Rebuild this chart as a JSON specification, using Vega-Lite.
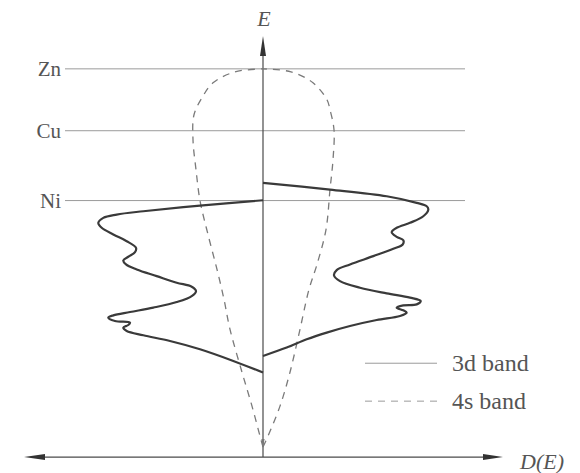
{
  "$schema": "https://vega.github.io/schema/vega-lite/v6.json",
  "width": 580,
  "height": 473,
  "autosize": {"type": "fit", "contains": "padding"},
  "padding": 0,
  "background": "white",
  "config": {"view": {"stroke": null}},
  "datasets": {
    "levels": [
      {"metal": "Zn", "E": 38.9},
      {"metal": "Cu", "E": 32.7},
      {"metal": "Ni", "E": 25.7}
    ],
    "band4s": [
      {"side": "left", "i": 0, "D": 0.0, "E": 1.0},
      {"side": "left", "i": 1, "D": -0.3, "E": 2.1},
      {"side": "left", "i": 2, "D": -1.1, "E": 5.1},
      {"side": "left", "i": 3, "D": -2.1, "E": 8.5},
      {"side": "left", "i": 4, "D": -3.3, "E": 12.8},
      {"side": "left", "i": 5, "D": -3.9, "E": 15.8},
      {"side": "left", "i": 6, "D": -4.6, "E": 18.8},
      {"side": "left", "i": 7, "D": -5.5, "E": 22.3},
      {"side": "left", "i": 8, "D": -6.3, "E": 25.7},
      {"side": "left", "i": 9, "D": -6.7, "E": 28.8},
      {"side": "left", "i": 10, "D": -7.0, "E": 31.8},
      {"side": "left", "i": 11, "D": -6.9, "E": 34.3},
      {"side": "left", "i": 12, "D": -6.1, "E": 36.0},
      {"side": "left", "i": 13, "D": -5.0, "E": 37.5},
      {"side": "left", "i": 14, "D": -2.8, "E": 38.6},
      {"side": "left", "i": 15, "D": 0.0, "E": 38.9},
      {"side": "right", "i": 0, "D": 0.0, "E": 1.0},
      {"side": "right", "i": 1, "D": 0.5, "E": 2.1},
      {"side": "right", "i": 2, "D": 1.7, "E": 5.1},
      {"side": "right", "i": 3, "D": 2.7, "E": 8.5},
      {"side": "right", "i": 4, "D": 3.7, "E": 12.8},
      {"side": "right", "i": 5, "D": 4.6, "E": 16.8},
      {"side": "right", "i": 6, "D": 5.4, "E": 19.3},
      {"side": "right", "i": 7, "D": 6.3, "E": 22.8},
      {"side": "right", "i": 8, "D": 6.7, "E": 26.8},
      {"side": "right", "i": 9, "D": 7.0, "E": 29.8},
      {"side": "right", "i": 10, "D": 7.1, "E": 32.8},
      {"side": "right", "i": 11, "D": 6.7, "E": 34.8},
      {"side": "right", "i": 12, "D": 6.4, "E": 35.8},
      {"side": "right", "i": 13, "D": 5.0, "E": 37.5},
      {"side": "right", "i": 14, "D": 2.8, "E": 38.6},
      {"side": "right", "i": 15, "D": 0.0, "E": 38.9}
    ],
    "band3d": [
      {"side": "left", "i": 0, "D": 0.0, "E": 25.73},
      {"side": "left", "i": 1, "D": -6.3, "E": 25.2},
      {"side": "left", "i": 2, "D": -11.97, "E": 24.63},
      {"side": "left", "i": 3, "D": -14.63, "E": 24.3},
      {"side": "left", "i": 4, "D": -15.97, "E": 23.97},
      {"side": "left", "i": 5, "D": -16.47, "E": 23.47},
      {"side": "left", "i": 6, "D": -16.13, "E": 22.97},
      {"side": "left", "i": 7, "D": -14.97, "E": 22.3},
      {"side": "left", "i": 8, "D": -13.63, "E": 21.63},
      {"side": "left", "i": 9, "D": -12.7, "E": 20.97},
      {"side": "left", "i": 10, "D": -12.8, "E": 20.53},
      {"side": "left", "i": 11, "D": -13.47, "E": 20.07},
      {"side": "left", "i": 12, "D": -13.97, "E": 19.7},
      {"side": "left", "i": 13, "D": -13.7, "E": 19.3},
      {"side": "left", "i": 14, "D": -12.63, "E": 18.8},
      {"side": "left", "i": 15, "D": -10.63, "E": 18.13},
      {"side": "left", "i": 16, "D": -8.63, "E": 17.47},
      {"side": "left", "i": 17, "D": -7.13, "E": 17.07},
      {"side": "left", "i": 18, "D": -6.7, "E": 16.63},
      {"side": "left", "i": 19, "D": -7.13, "E": 16.13},
      {"side": "left", "i": 20, "D": -8.63, "E": 15.53},
      {"side": "left", "i": 21, "D": -10.97, "E": 14.97},
      {"side": "left", "i": 22, "D": -13.3, "E": 14.53},
      {"side": "left", "i": 23, "D": -14.97, "E": 14.2},
      {"side": "left", "i": 24, "D": -15.47, "E": 13.97},
      {"side": "left", "i": 25, "D": -14.8, "E": 13.63},
      {"side": "left", "i": 26, "D": -13.3, "E": 13.47},
      {"side": "left", "i": 27, "D": -13.47, "E": 13.23},
      {"side": "left", "i": 28, "D": -13.97, "E": 12.97},
      {"side": "left", "i": 29, "D": -13.63, "E": 12.63},
      {"side": "left", "i": 30, "D": -11.97, "E": 12.2},
      {"side": "left", "i": 31, "D": -9.3, "E": 11.63},
      {"side": "left", "i": 32, "D": -6.3, "E": 10.8},
      {"side": "left", "i": 33, "D": -2.97, "E": 9.63},
      {"side": "left", "i": 34, "D": 0.0, "E": 8.47},
      {"side": "right", "i": 0, "D": 0.0, "E": 27.47},
      {"side": "right", "i": 1, "D": 6.7, "E": 26.8},
      {"side": "right", "i": 2, "D": 12.37, "E": 26.13},
      {"side": "right", "i": 3, "D": 15.37, "E": 25.47},
      {"side": "right", "i": 4, "D": 16.37, "E": 25.13},
      {"side": "right", "i": 5, "D": 16.53, "E": 24.8},
      {"side": "right", "i": 6, "D": 16.03, "E": 24.13},
      {"side": "right", "i": 7, "D": 14.7, "E": 23.47},
      {"side": "right", "i": 8, "D": 13.37, "E": 22.97},
      {"side": "right", "i": 9, "D": 12.87, "E": 22.53},
      {"side": "right", "i": 10, "D": 13.37, "E": 22.07},
      {"side": "right", "i": 11, "D": 14.03, "E": 21.73},
      {"side": "right", "i": 12, "D": 13.97, "E": 21.3},
      {"side": "right", "i": 13, "D": 13.03, "E": 20.87},
      {"side": "right", "i": 14, "D": 11.03, "E": 20.13},
      {"side": "right", "i": 15, "D": 8.7, "E": 19.3},
      {"side": "right", "i": 16, "D": 7.37, "E": 18.73},
      {"side": "right", "i": 17, "D": 7.1, "E": 18.2},
      {"side": "right", "i": 18, "D": 7.7, "E": 17.63},
      {"side": "right", "i": 19, "D": 9.7, "E": 16.97},
      {"side": "right", "i": 20, "D": 12.37, "E": 16.4},
      {"side": "right", "i": 21, "D": 14.7, "E": 15.97},
      {"side": "right", "i": 22, "D": 15.77, "E": 15.63},
      {"side": "right", "i": 23, "D": 15.37, "E": 15.3},
      {"side": "right", "i": 24, "D": 14.03, "E": 15.2},
      {"side": "right", "i": 25, "D": 13.37, "E": 14.97},
      {"side": "right", "i": 26, "D": 14.03, "E": 14.7},
      {"side": "right", "i": 27, "D": 14.37, "E": 14.47},
      {"side": "right", "i": 28, "D": 13.7, "E": 14.13},
      {"side": "right", "i": 29, "D": 11.37, "E": 13.73},
      {"side": "right", "i": 30, "D": 8.7, "E": 13.13},
      {"side": "right", "i": 31, "D": 6.37, "E": 12.47},
      {"side": "right", "i": 32, "D": 4.37, "E": 11.8},
      {"side": "right", "i": 33, "D": 2.37, "E": 10.97},
      {"side": "right", "i": 34, "D": 0.0, "E": 10.13}
    ],
    "legend": [
      {"band": "3d band", "E": 9.4, "dash": "solid"},
      {"band": "4s band", "E": 5.6, "dash": "dashed"}
    ]
  },
  "encoding": {
    "x": {"type": "quantitative", "scale": {"domain": [-26.3, 31.7], "nice": false, "zero": false}, "axis": null},
    "y": {"type": "quantitative", "scale": {"domain": [-1.5, 45.8], "nice": false, "zero": false}, "axis": null}
  },
  "layer": [
    {
      "data": {"name": "levels"},
      "mark": {"type": "rule", "color": "#9a9a9a", "strokeWidth": 1},
      "encoding": {
        "y": {"field": "E", "type": "quantitative"},
        "x": {"datum": -19.8},
        "x2": {"datum": 20.2}
      }
    },
    {
      "data": {"name": "levels"},
      "mark": {"type": "text", "align": "right", "baseline": "alphabetic", "dy": 7, "font": "Liberation Serif", "fontSize": 21, "color": "#555555"},
      "encoding": {
        "y": {"field": "E", "type": "quantitative"},
        "x": {"datum": -20.2},
        "text": {"field": "metal"}
      }
    },
    {
      "data": {"values": [{}]},
      "mark": {"type": "rule", "color": "#4a4a4a", "strokeWidth": 1.2},
      "encoding": {"x": {"datum": 0}, "y": {"datum": 0}, "y2": {"datum": 40.5}}
    },
    {
      "data": {"values": [{}]},
      "mark": {"type": "rule", "color": "#4a4a4a", "strokeWidth": 1.2},
      "encoding": {"y": {"datum": 0}, "x": {"datum": -22}, "x2": {"datum": 22.2}}
    },
    {
      "data": {"values": [{}]},
      "mark": {"type": "point", "filled": true, "color": "#333333", "opacity": 1, "size": 400, "shape": "M0,-1L0.3,1L-0.3,1Z"},
      "encoding": {"x": {"datum": 0}, "y": {"datum": 41.2}}
    },
    {
      "data": {"values": [{}]},
      "mark": {"type": "point", "filled": true, "color": "#333333", "opacity": 1, "size": 441, "shape": "M-1,0L1,-0.28L1,0.28Z"},
      "encoding": {"x": {"datum": -22.85}, "y": {"datum": 0}}
    },
    {
      "data": {"values": [{}]},
      "mark": {"type": "point", "filled": true, "color": "#333333", "opacity": 1, "size": 400, "shape": "M1,0L-1,-0.3L-1,0.3Z"},
      "encoding": {"x": {"datum": 23.0}, "y": {"datum": 0}}
    },
    {
      "data": {"values": [{}]},
      "mark": {"type": "point", "filled": true, "color": "#777777", "opacity": 1, "size": 64, "shape": "M0,1L0.4,-1L-0.4,-1Z"},
      "encoding": {"x": {"datum": 0}, "y": {"datum": 1.4}}
    },
    {
      "data": {"name": "band4s"},
      "mark": {"type": "line", "interpolate": "catmull-rom", "color": "#7a7a7a", "strokeWidth": 1.3, "strokeDash": [7, 6]},
      "encoding": {
        "x": {"field": "D", "type": "quantitative"},
        "y": {"field": "E", "type": "quantitative"},
        "detail": {"field": "side"},
        "order": {"field": "i", "type": "quantitative"}
      }
    },
    {
      "data": {"name": "band3d"},
      "mark": {"type": "line", "interpolate": "catmull-rom", "color": "#3a3a3a", "strokeWidth": 2.2},
      "encoding": {
        "x": {"field": "D", "type": "quantitative"},
        "y": {"field": "E", "type": "quantitative"},
        "detail": {"field": "side"},
        "order": {"field": "i", "type": "quantitative"}
      }
    },
    {
      "data": {"name": "legend"},
      "mark": {"type": "rule", "color": "#9a9a9a", "strokeWidth": 1},
      "encoding": {
        "y": {"field": "E", "type": "quantitative"},
        "x": {"datum": 10.2},
        "x2": {"datum": 17.4},
        "strokeDash": {"field": "dash", "type": "nominal", "scale": {"domain": ["solid", "dashed"], "range": [[1, 0], [7, 6]]}, "legend": null}
      }
    },
    {
      "data": {"name": "legend"},
      "mark": {"type": "text", "align": "left", "baseline": "alphabetic", "dy": 8, "font": "Liberation Serif", "fontSize": 24, "color": "#555555"},
      "encoding": {
        "y": {"field": "E", "type": "quantitative"},
        "x": {"datum": 18.9},
        "text": {"field": "band"}
      }
    },
    {
      "data": {"values": [{"label": "E"}]},
      "mark": {"type": "text", "align": "center", "baseline": "alphabetic", "font": "Liberation Serif", "fontStyle": "italic", "fontSize": 22, "color": "#555555"},
      "encoding": {"x": {"datum": 0.1}, "y": {"datum": 43.2}, "text": {"field": "label"}}
    },
    {
      "data": {"values": [{"label": "D(E)"}]},
      "mark": {"type": "text", "align": "left", "baseline": "alphabetic", "font": "Liberation Serif", "fontStyle": "italic", "fontSize": 22, "color": "#555555"},
      "encoding": {"x": {"datum": 25.7}, "y": {"datum": -1.2}, "text": {"field": "label"}}
    }
  ]
}
